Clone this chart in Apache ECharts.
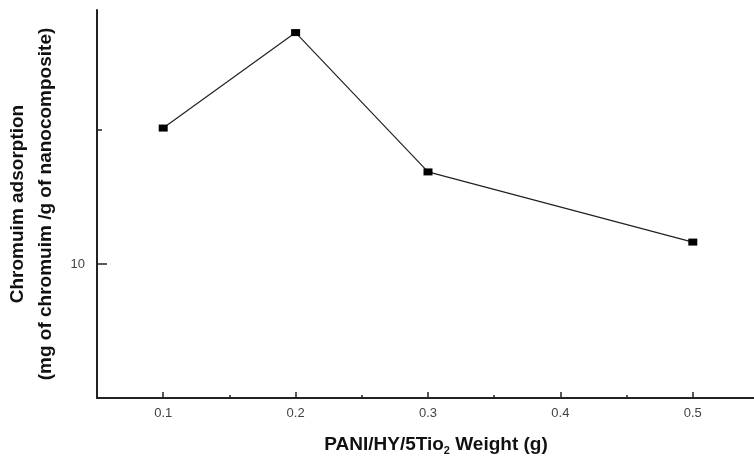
<!DOCTYPE html>
<html>
<head>
<meta charset="utf-8">
<script src="https://cdn.jsdelivr.net/npm/echarts@6/dist/echarts.min.js"></script>
<style>
  html, body { margin: 0; padding: 0; background: #fff; }
  #chart { width: 754px; height: 460px; }
</style>
</head>
<body>
<div id="chart"></div>
<script>
// Composite weight (g) and chromium uptake per gram of nanocomposite
const weights = [0.1, 0.2, 0.3, 0.5];
const adsorption = [20.2, 33.1, 16.1, 11.2];

// Axis ticks and labels
const xLabelValues = [0.1, 0.2, 0.3, 0.4, 0.5];
const xMinorTicks = [0.15, 0.25, 0.35, 0.45];
const yLabelValues = [10];
const yMinorTicks = [20];

const font = 'Liberation Sans, Arial, sans-serif';
const chart = echarts.init(document.getElementById('chart'));

const xBase = {
  type: 'value', min: 0.05, max: 0.55, interval: 0.05,
  splitLine: { show: false }
};
const yBase = {
  type: 'log', logBase: 10, min: 5, max: 37.2,
  splitLine: { show: false }
};

chart.setOption({
  animation: false,
  backgroundColor: '#fff',
  grid: { left: 97, right: -5, top: 10, bottom: 62, containLabel: false, outerBoundsMode: 'none' },
  xAxis: [
    Object.assign({}, xBase, {
      name: 'PANI/HY/5Tio{sub|2} Weight (g)',
      nameLocation: 'middle',
      nameGap: 35,
      nameTextStyle: {
        fontFamily: font, fontSize: 19, fontWeight: 'bold', color: '#111',
        padding: [0, 0, 0, 16],
        rich: {
          sub: { fontFamily: font, fontSize: 11, fontWeight: 'bold', color: '#111', padding: [12, 0, 0, 0] }
        }
      },
      axisLine: { lineStyle: { color: '#222', width: 2 } },
      axisTick: { inside: true, length: 6, customValues: xLabelValues, lineStyle: { color: '#222', width: 1.5 } },
      axisLabel: {
        customValues: xLabelValues, margin: 9,
        fontFamily: font, fontSize: 13, color: '#444',
        formatter: v => v.toFixed(1)
      }
    }),
    Object.assign({}, xBase, {
      position: 'bottom',
      axisLine: { show: false },
      axisTick: { inside: true, length: 3, customValues: xMinorTicks, lineStyle: { color: '#222', width: 1.5 } },
      axisLabel: { show: false }
    })
  ],
  yAxis: [
    Object.assign({}, yBase, {
      name: 'Chromuim adsorption\n(mg of chromuim /g of nanocomposite)',
      nameLocation: 'middle',
      nameGap: 36,
      nameRotate: 90,
      nameTextStyle: {
        fontFamily: font, fontSize: 19, fontWeight: 'bold', color: '#111', lineHeight: 28
      },
      axisLine: { lineStyle: { color: '#222', width: 2 } },
      axisTick: { inside: true, length: 10, customValues: yLabelValues, lineStyle: { color: '#222', width: 1.5 } },
      axisLabel: {
        customValues: yLabelValues, margin: 12,
        fontFamily: font, fontSize: 13, color: '#444'
      }
    }),
    Object.assign({}, yBase, {
      position: 'left',
      axisLine: { show: false },
      axisTick: { inside: true, length: 5, customValues: yMinorTicks, lineStyle: { color: '#222', width: 1.5 } },
      axisLabel: { show: false }
    })
  ],
  series: [{
    type: 'line',
    xAxisIndex: 0,
    yAxisIndex: 0,
    data: weights.map((w, i) => [w, adsorption[i]]),
    symbol: 'rect',
    symbolSize: [9, 7],
    itemStyle: { color: '#000' },
    lineStyle: { color: '#222', width: 1.2 }
  }]
});
</script>
</body>
</html>
